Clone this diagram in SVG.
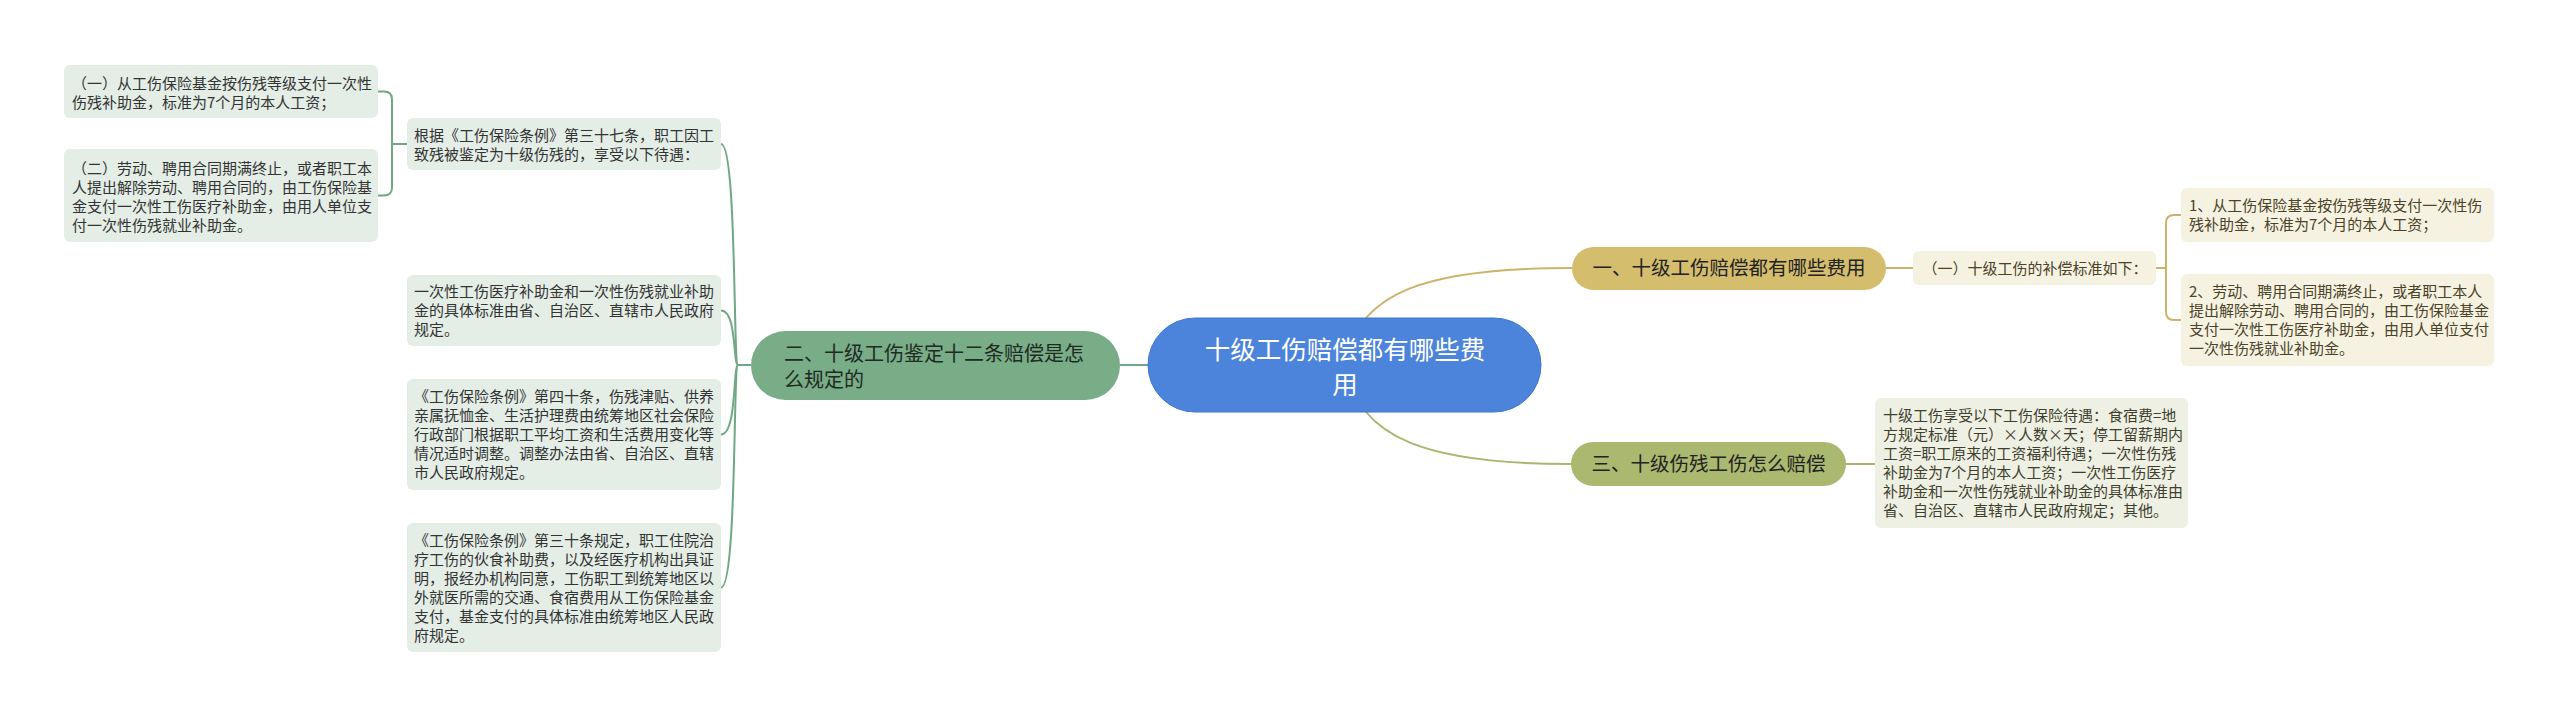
<svg xmlns="http://www.w3.org/2000/svg" width="2560" height="717" viewBox="0 0 2560 717">
<style>
text{font-family:"Noto Sans CJK SC","Noto Sans",sans-serif;}
.lf{font-size:15px;fill:#333333;}
.lg{fill:#e4eee7;}
.ly{fill:#f6f2e2;}
.lo{fill:#eef0e3;}
.ty{font-size:15px;fill:#4a4328;}
.to{font-size:15px;fill:#3f3f2e;}
.cg{fill:none;stroke:#6fa882;stroke-width:2;}
.cy{fill:none;stroke:#cbb46a;stroke-width:2;}
.co{fill:none;stroke:#a9b670;stroke-width:2;}
</style>
<rect width="2560" height="717" fill="#ffffff"/>
<g id="connectors">
<path class="cy" d="M1345,365 C1358,290 1430,268 1572,268"/>
<path class="co" d="M1345,365 C1358,440 1430,464 1571,464"/>
<path class="cg" d="M1148,365 L1120,365"/>
<path class="cg" d="M751,365 L738,365"/>
<path class="cg" d="M738,365 C733,365 737,144 721,144"/>
<path class="cg" d="M738,365 C733,365 737,310.5 721,310.5"/>
<path class="cg" d="M738,365 C733,365 737,434.5 721,434.5"/>
<path class="cg" d="M738,365 C733,365 737,587.5 721,587.5"/>
<path class="cg" d="M378,91.5 L384,91.5 Q392,91.5 392,99.5 L392,187.5 Q392,195.5 384,195.5 L378,195.5 M392,144 L407,144"/>
<path class="cy" d="M1886,268 L1913,268"/>
<path class="cy" d="M2181,215 L2174,215 Q2166,215 2166,223 L2166,312 Q2166,320 2174,320 L2181,320 M2156,268 L2166,268"/>
<path class="co" d="M1846,464 L1875,464"/>
</g>
<g id="root">
<rect x="1148" y="318" width="393" height="94" rx="47" fill="#4b84da" stroke="#3f78cc" stroke-width="1"/>
<text x="1345" y="358.7" font-size="25.5" fill="#ffffff" text-anchor="middle">十级工伤赔偿都有哪些费</text>
<text x="1345" y="393.7" font-size="25.5" fill="#ffffff" text-anchor="middle">用</text>
</g>
<g id="n2">
<rect x="751" y="331" width="369" height="69" rx="34.5" fill="#78ad88"/>
<text x="784" y="360.6" font-size="20" fill="#1f2a22">二、十级工伤鉴定十二条赔偿是怎</text>
<text x="784" y="386.6" font-size="20" fill="#1f2a22">么规定的</text>
</g>
<g id="nA">
<rect x="407" y="118" width="314" height="52" rx="6" class="lg"/>
<text class="lf" x="414" y="140.7">根据《工伤保险条例》第三十七条，职工因工</text>
<text class="lf" x="414" y="159.7">致残被鉴定为十级伤残的，享受以下待遇：</text>
</g>
<g id="nA1">
<rect x="64" y="65" width="314" height="53" rx="6" class="lg"/>
<text class="lf" x="72" y="89">（一）从工伤保险基金按伤残等级支付一次性</text>
<text class="lf" x="72" y="108">伤残补助金，标准为7个月的本人工资；</text>
</g>
<g id="nA2">
<rect x="64" y="149" width="314" height="93" rx="6" class="lg"/>
<text class="lf" x="72" y="173.7">（二）劳动、聘用合同期满终止，或者职工本</text>
<text class="lf" x="72" y="192.7">人提出解除劳动、聘用合同的，由工伤保险基</text>
<text class="lf" x="72" y="211.7">金支付一次性工伤医疗补助金，由用人单位支</text>
<text class="lf" x="72" y="230.7">付一次性伤残就业补助金。</text>
</g>
<g id="nB1">
<rect x="407" y="275" width="314" height="71" rx="6" class="lg"/>
<text class="lf" x="414" y="297.2">一次性工伤医疗补助金和一次性伤残就业补助</text>
<text class="lf" x="414" y="316.2">金的具体标准由省、自治区、直辖市人民政府</text>
<text class="lf" x="414" y="335.2">规定。</text>
</g>
<g id="nB2">
<rect x="407" y="379" width="314" height="111" rx="6" class="lg"/>
<text class="lf" x="414" y="402.2">《工伤保险条例》第四十条，伤残津贴、供养</text>
<text class="lf" x="414" y="421.2">亲属抚恤金、生活护理费由统筹地区社会保险</text>
<text class="lf" x="414" y="440.2">行政部门根据职工平均工资和生活费用变化等</text>
<text class="lf" x="414" y="459.2">情况适时调整。调整办法由省、自治区、直辖</text>
<text class="lf" x="414" y="478.2">市人民政府规定。</text>
</g>
<g id="nB3">
<rect x="407" y="523" width="314" height="129" rx="6" class="lg"/>
<text class="lf" x="414" y="545.7">《工伤保险条例》第三十条规定，职工住院治</text>
<text class="lf" x="414" y="564.7">疗工伤的伙食补助费，以及经医疗机构出具证</text>
<text class="lf" x="414" y="583.7">明，报经办机构同意，工伤职工到统筹地区以</text>
<text class="lf" x="414" y="602.7">外就医所需的交通、食宿费用从工伤保险基金</text>
<text class="lf" x="414" y="621.7">支付，基金支付的具体标准由统筹地区人民政</text>
<text class="lf" x="414" y="640.7">府规定。</text>
</g>
<g id="n1">
<rect x="1572" y="247" width="314" height="43" rx="21.5" fill="#d5bd6e"/>
<text x="1729" y="275.4" font-size="19.5" fill="#222222" text-anchor="middle">一、十级工伤赔偿都有哪些费用</text>
</g>
<g id="n1a">
<rect x="1913" y="251" width="243" height="34" rx="6" class="ly"/>
<text class="ty" x="2035" y="273.5" font-size="14.5" text-anchor="middle">（一）十级工伤的补偿标准如下：</text>
</g>
<g id="n1a1">
<rect x="2181" y="188" width="313" height="54" rx="6" class="ly"/>
<text class="ty" x="2189" y="211.2">1、从工伤保险基金按伤残等级支付一次性伤</text>
<text class="ty" x="2189" y="230.2">残补助金，标准为7个月的本人工资；</text>
</g>
<g id="n1a2">
<rect x="2181" y="274" width="313" height="92" rx="6" class="ly"/>
<text class="ty" x="2189" y="297.2">2、劳动、聘用合同期满终止，或者职工本人</text>
<text class="ty" x="2189" y="316.2">提出解除劳动、聘用合同的，由工伤保险基金</text>
<text class="ty" x="2189" y="335.2">支付一次性工伤医疗补助金，由用人单位支付</text>
<text class="ty" x="2189" y="354.2">一次性伤残就业补助金。</text>
</g>
<g id="n3">
<rect x="1571" y="442" width="275" height="44" rx="22" fill="#abb86f"/>
<text x="1708.5" y="471" font-size="19.5" fill="#222222" text-anchor="middle">三、十级伤残工伤怎么赔偿</text>
</g>
<g id="n3a">
<rect x="1875" y="398" width="313" height="130" rx="6" class="lo"/>
<text class="to" x="1883" y="421.2">十级工伤享受以下工伤保险待遇：食宿费=地</text>
<text class="to" x="1883" y="440.2">方规定标准（元）×人数×天；停工留薪期内</text>
<text class="to" x="1883" y="459.2">工资=职工原来的工资福利待遇；一次性伤残</text>
<text class="to" x="1883" y="478.2">补助金为7个月的本人工资；一次性工伤医疗</text>
<text class="to" x="1883" y="497.2">补助金和一次性伤残就业补助金的具体标准由</text>
<text class="to" x="1883" y="516.2">省、自治区、直辖市人民政府规定；其他。</text>
</g>
</svg>
